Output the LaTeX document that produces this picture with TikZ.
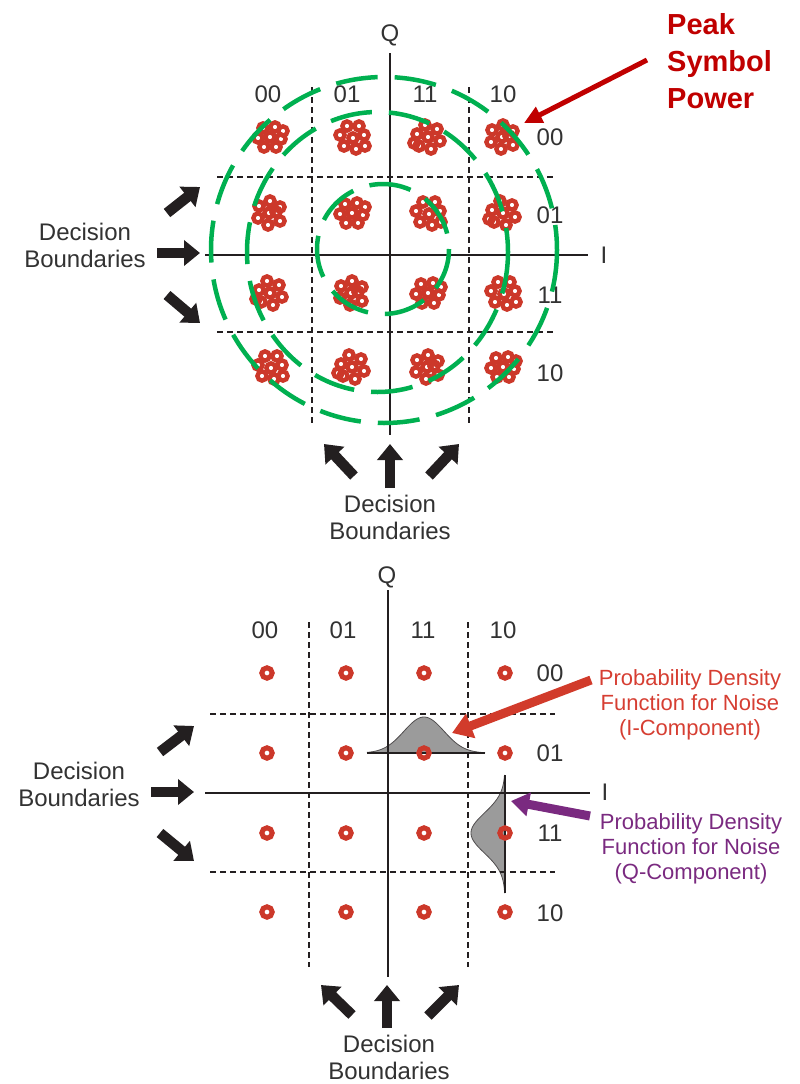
\documentclass[tikz,border=0pt]{standalone}
\usepackage{fontspec}
\setmainfont{Liberation Sans}
\usetikzlibrary{arrows.meta}
\definecolor{ink}{RGB}{35,31,32}
\definecolor{txt}{RGB}{50,50,50}
\definecolor{ringred}{RGB}{204,56,42}
\definecolor{dkred}{RGB}{192,0,0}
\definecolor{grn}{RGB}{0,176,80}
\definecolor{lblred}{RGB}{214,62,50}
\definecolor{purp}{RGB}{122,42,128}
\definecolor{arrred}{RGB}{209,59,43}
\definecolor{pdfgray}{RGB}{155,155,155}
\def\patA{0/0,11/2,5/-10,-7/-9,-12/1,-6/10,6/10,13/-6}
\def\patB{0/0,-11/-3,-3/-12,9/-8,12/4,3/12,-9/9,-14/6}
\def\patC{1/1,12/-2,7/-11,-5/-11,-12/-2,-8/9,4/12,13/9}
\def\patD{-1/0,10/-6,0/-12,-11/-7,-12/5,-2/12,10/8,6/-1}
\newcommand\drawcluster[3]{\foreach \dx/\dy in #3 {\draw[ring] ({#1+\dx},{#2+\dy}) circle[radius=4.6];}}
\begin{document}
\begin{tikzpicture}[x=1pt,y=-1pt,
  axis/.style={draw=ink,line width=2pt},
  bound/.style={draw=ink,line width=1.6pt,dash pattern=on 6pt off 4pt},
  gcirc/.style={draw=grn,line width=4.5pt,dash pattern=on 42pt off 17pt},
  ring/.style={draw=ringred,line width=4.4pt},
  dot/.style={draw=ringred,line width=5pt},
  lab/.style={text=txt,font=\fontsize{24}{27}\selectfont,inner sep=0pt,align=center},
  fatarrow/.style={draw=ink,line width=10.5pt,-{Triangle[length=16pt,width=25pt]}},
  pdf/.style={fill=pdfgray,draw=ink!80,line width=0.8pt}]
\useasboundingbox (0,0) rectangle (800,1084);

% ================= TOP DIAGRAM =================
\draw[bound] (312,87) -- (312,425);
\draw[bound] (469,87) -- (469,425);
\draw[bound] (217,177) -- (556,177);
\draw[bound] (217,332) -- (556,332);
\coordinate (tQs) at (390,53); \coordinate (tQe) at (390,435);
\coordinate (tIs) at (205,255); \coordinate (tIe) at (588,255);
\draw[axis] (tQs) -- (tQe);
\draw[axis] (tIs) -- (tIe);
\node[lab] (tQ) at (390,35) {Q};
\node[lab] (tI) at (604,255) {I};
\node[lab] (tc1) at (268,94) {00};
\node[lab] (tc2) at (347,94) {01};
\node[lab] (tc3) at (425,94) {11};
\node[lab] (tc4) at (503,94) {10};
\node[lab] (tr1) at (550,137) {00};
\node[lab] (tr2) at (550,215) {01};
\node[lab] (tr3) at (550,295) {11};
\node[lab] (tr4) at (550,373) {10};

\drawcluster{270}{137}{\patA}
\drawcluster{352}{137}{\patC}
\drawcluster{428}{137}{\patB}
\drawcluster{503}{137}{\patD}
\drawcluster{270}{213}{\patD}
\drawcluster{352}{213}{\patA}
\drawcluster{428}{213}{\patC}
\drawcluster{503}{213}{\patB}
\drawcluster{270}{293}{\patB}
\drawcluster{352}{293}{\patD}
\drawcluster{428}{293}{\patA}
\drawcluster{503}{293}{\patC}
\drawcluster{270}{367}{\patC}
\drawcluster{352}{367}{\patB}
\drawcluster{428}{367}{\patD}
\drawcluster{503}{367}{\patA}

\draw[gcirc] (383,249) circle[x radius=66, y radius=65];
\draw[gcirc] (377.5,252) circle[x radius=130.5, y radius=140];
\draw[gcirc] (384,250) circle[radius=173];

\node[text=dkred,font=\fontsize{29}{37}\selectfont\bfseries,align=left,anchor=west,inner sep=0pt] (peak) at (667,61) {Peak\\Symbol\\Power};
\coordinate (pks) at (647,60); \coordinate (pke) at (524,123);
\draw[draw=dkred,line width=5pt,-{Triangle[length=18pt,width=17pt]}] (pks) -- (pke);

\node[lab] (tdb) at (85,245) {Decision\\Boundaries};
\coordinate (a1s) at (167,213); \coordinate (a1e) at (200,187);
\coordinate (a2s) at (157,253); \coordinate (a2e) at (200,253);
\coordinate (a3s) at (167,295); \coordinate (a3e) at (200,323);
\draw[fatarrow] (a1s) -- (a1e);
\draw[fatarrow] (a2s) -- (a2e);
\draw[fatarrow] (a3s) -- (a3e);

\node[lab] (bdb) at (390,517) {Decision\\Boundaries};
\coordinate (b1s) at (354,476); \coordinate (b1e) at (324,444);
\coordinate (b2s) at (390,488); \coordinate (b2e) at (390,444);
\coordinate (b3s) at (429,476); \coordinate (b3e) at (459,444);
\draw[fatarrow] (b1s) -- (b1e);
\draw[fatarrow] (b2s) -- (b2e);
\draw[fatarrow] (b3s) -- (b3e);

% ================= BOTTOM DIAGRAM =================
\fill[pdf] plot[domain=-57:61,samples=80] ({424+\x},{753-36*exp(-(\x*\x)/(800))}) -- cycle;
\draw[draw=ink,line width=1.2pt] (367,753) -- (485,753);
\fill[pdf] plot[domain=-58:60,samples=80] ({505-34*exp(-(\x*\x)/(800))},{833+\x}) -- cycle;
\draw[draw=ink,line width=1.2pt] (505,775) -- (505,893);

\draw[bound] (309,622) -- (309,967);
\draw[bound] (468,622) -- (468,967);
\draw[bound] (210,714) -- (555,714);
\draw[bound] (210,872) -- (555,872);
\coordinate (bQs) at (388,590); \coordinate (bQe) at (388,977);
\coordinate (bIs) at (205,793); \coordinate (bIe) at (590,793);
\draw[axis] (bQs) -- (bQe);
\draw[axis] (bIs) -- (bIe);
\node[lab] (bQ) at (387,577) {Q};
\node[lab] (bI) at (605,792) {I};
\node[lab] (bc1) at (265,630) {00};
\node[lab] (bc2) at (343,630) {01};
\node[lab] (bc3) at (423,630) {11};
\node[lab] (bc4) at (503,630) {10};
\node[lab] (br1) at (550,673) {00};
\node[lab] (br2) at (550,753) {01};
\node[lab] (br3) at (550,833) {11};
\node[lab] (br4) at (550,913) {10};

\foreach \yy in {673,753,833,912}{
  \foreach \xx in {267,346,424,505}{
    \draw[dot] (\xx,\yy) circle[radius=5.2];
  }
}

\node[text=lblred,font=\fontsize{22}{25}\selectfont,align=center,inner sep=0pt] (pdfi) at (690,705) {Probability Density\\Function for Noise\\(I-Component)};
\node[text=purp,font=\fontsize{22}{25}\selectfont,align=center,inner sep=0pt] (pdfq) at (691,849) {Probability Density\\Function for Noise\\(Q-Component)};
\coordinate (ris) at (591,680); \coordinate (rie) at (452,733);
\draw[draw=arrred,line width=9pt,-{Triangle[length=20pt,width=25pt]}] (ris) -- (rie);
\coordinate (pqs) at (590,816); \coordinate (pqe) at (511,801);
\draw[draw=purp,line width=9pt,-{Triangle[length=18pt,width=23pt]}] (pqs) -- (pqe);

\node[lab] (ldb) at (79,784) {Decision\\Boundaries};
\coordinate (c1s) at (160,752); \coordinate (c1e) at (194,726);
\coordinate (c2s) at (151,792); \coordinate (c2e) at (194,792);
\coordinate (c3s) at (160,833); \coordinate (c3e) at (194,861);
\draw[fatarrow] (c1s) -- (c1e);
\draw[fatarrow] (c2s) -- (c2e);
\draw[fatarrow] (c3s) -- (c3e);

\node[lab] (ddb) at (389,1057) {Decision\\Boundaries};
\coordinate (d1s) at (352,1015); \coordinate (d1e) at (321,985);
\coordinate (d2s) at (387,1028); \coordinate (d2e) at (387,985);
\coordinate (d3s) at (428,1016); \coordinate (d3e) at (459,985);
\draw[fatarrow] (d1s) -- (d1e);
\draw[fatarrow] (d2s) -- (d2e);
\draw[fatarrow] (d3s) -- (d3e);
\end{tikzpicture}
\end{document}
